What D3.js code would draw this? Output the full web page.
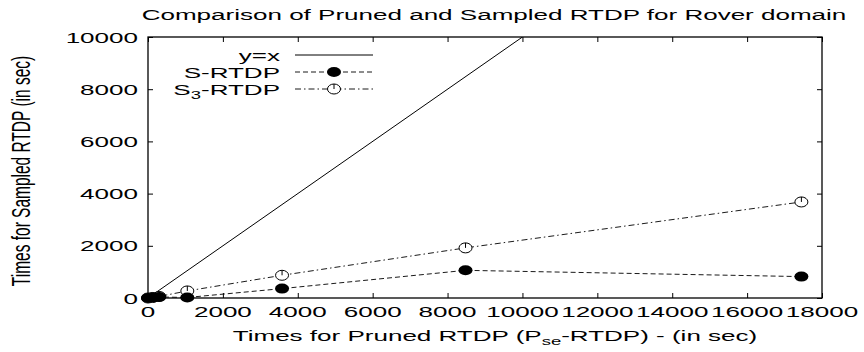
<!DOCTYPE html>
<html>
<head>
<meta charset="utf-8">
<script src="https://cdn.jsdelivr.net/npm/d3@7"></script>
<style>
  body { margin: 0; background: #fff; }
  text { font-family: "Liberation Sans", Arial, sans-serif; fill: #000; }
</style>
</head>
<body>
<div id="chart"></div>
<script>
// Chart data
var xTicks = [0, 2000, 4000, 6000, 8000, 10000, 12000, 14000, 16000, 18000];
var yTicks = [0, 2000, 4000, 6000, 8000, 10000];

var identX = [0, 10000];
var identY = [0, 10000];

var sX = [0, 150, 300, 1050, 3580, 8480, 17450];
var sY = [0, 20, 40, 20, 360, 1060, 820];

var s3X = [0, 120, 300, 1050, 3580, 8480, 17450];
var s3Y = [0, 20, 60, 270, 870, 1920, 3680];

var svgWidth = 864;
var svgHeight = 352;
var margin = { top: 37, right: 42, bottom: 54, left: 148 };
var width = svgWidth - margin.left - margin.right;
var height = svgHeight - margin.top - margin.bottom;

// the original has its text stretched sideways
var sx = 1.68;
var fs = 15.5;

var svg = d3.select("#chart")
  .append("svg")
  .attr("width", svgWidth)
  .attr("height", svgHeight);

var chartGroup = svg.append("g")
  .attr("transform", `translate(${margin.left}, ${margin.top})`);

var xScale = d3.scaleLinear().domain([0, 18000]).range([0, width]);
var yScale = d3.scaleLinear().domain([0, 10000]).range([height, 0]);

function label(parent, x, y, anchor) {
  return parent.append("text")
    .attr("transform", `translate(${x}, ${y}) scale(${sx}, 1)`)
    .attr("text-anchor", anchor)
    .style("font-size", fs + "px");
}

// ticks on all four sides, pointing inward
var tick = 5;
chartGroup.append("g")
  .attr("transform", `translate(0, ${height})`)
  .call(d3.axisBottom(xScale).tickValues(xTicks).tickSize(-tick).tickFormat(""));
chartGroup.append("g")
  .call(d3.axisTop(xScale).tickValues(xTicks).tickSize(-tick).tickFormat(""));
chartGroup.append("g")
  .call(d3.axisLeft(yScale).tickValues(yTicks).tickSize(-tick).tickFormat(""));
chartGroup.append("g")
  .attr("transform", `translate(${width}, 0)`)
  .call(d3.axisRight(yScale).tickValues(yTicks).tickSize(-tick).tickFormat(""));
chartGroup.selectAll(".domain").remove();
chartGroup.selectAll(".tick line").attr("stroke", "#000").attr("stroke-width", 1);

chartGroup.append("rect")
  .attr("width", width)
  .attr("height", height)
  .attr("fill", "none")
  .attr("stroke", "#000")
  .attr("stroke-width", 1.3);

// tick labels
xTicks.forEach(function(t) {
  label(chartGroup, xScale(t), height + 19, "middle").text(t);
});
yTicks.forEach(function(t) {
  label(chartGroup, -10, yScale(t) + 5.5, "end").text(t);
});

// lines
var clip = svg.append("defs").append("clipPath").attr("id", "plotclip");
clip.append("rect").attr("width", width).attr("height", height);

var line = d3.line()
  .x(d => xScale(d[0]))
  .y(d => yScale(d[1]));

var plot = chartGroup.append("g").attr("clip-path", "url(#plotclip)");

plot.append("path")
  .datum(d3.zip(identX, identY))
  .attr("d", line)
  .attr("fill", "none")
  .attr("stroke", "#000")
  .attr("stroke-width", 1);

plot.append("path")
  .datum(d3.zip(s3X, s3Y))
  .attr("d", line)
  .attr("fill", "none")
  .attr("stroke", "#000")
  .attr("stroke-width", 0.9)
  .attr("stroke-dasharray", "6,3,1.5,3");

plot.append("path")
  .datum(d3.zip(sX, sY))
  .attr("d", line)
  .attr("fill", "none")
  .attr("stroke", "#000")
  .attr("stroke-width", 0.9)
  .attr("stroke-dasharray", "5,3");

function openMark(g, x, y) {
  g.append("ellipse")
    .attr("cx", x).attr("cy", y)
    .attr("rx", 6.5).attr("ry", 5)
    .attr("fill", "#fff")
    .attr("stroke", "#000")
    .attr("stroke-width", 1);
  g.append("line")
    .attr("x1", x).attr("y1", y)
    .attr("x2", x).attr("y2", y - 5)
    .attr("stroke", "#000")
    .attr("stroke-width", 1);
}

function fullMark(g, x, y) {
  g.append("ellipse")
    .attr("cx", x).attr("cy", y)
    .attr("rx", 7).attr("ry", 5)
    .attr("fill", "#000");
}

var marks = chartGroup.append("g");
s3X.forEach(function(v, i) { openMark(marks, xScale(v), yScale(s3Y[i])); });
sX.forEach(function(v, i) { fullMark(marks, xScale(v), yScale(sY[i])); });

// legend
var legend = chartGroup.append("g");
var lx0 = 295 - margin.left, lx1 = 373 - margin.left, lxt = 280 - margin.left;
var rows = [18, 35, 52];

label(legend, lxt, rows[0] + 5.5, "end").text("y=x");
legend.append("line")
  .attr("x1", lx0).attr("x2", lx1).attr("y1", rows[0]).attr("y2", rows[0])
  .attr("stroke", "#000").attr("stroke-width", 1);

label(legend, lxt, rows[1] + 5.5, "end").text("S-RTDP");
legend.append("line")
  .attr("x1", lx0).attr("x2", lx1).attr("y1", rows[1]).attr("y2", rows[1])
  .attr("stroke", "#000").attr("stroke-width", 0.9).attr("stroke-dasharray", "5,3");
fullMark(legend, (lx0 + lx1) / 2, rows[1]);

var s3Label = label(legend, lxt, rows[2] + 5.5, "end");
s3Label.append("tspan").text("S");
s3Label.append("tspan").attr("dy", 4).style("font-size", "11px").text("3");
s3Label.append("tspan").attr("dy", -4).text("-RTDP");
legend.append("line")
  .attr("x1", lx0).attr("x2", lx1).attr("y1", rows[2]).attr("y2", rows[2])
  .attr("stroke", "#000").attr("stroke-width", 0.9).attr("stroke-dasharray", "6,3,1.5,3");
openMark(legend, (lx0 + lx1) / 2, rows[2]);

// titles
label(svg, 494, 20, "middle").text("Comparison of Pruned and Sampled RTDP for Rover domain");

var xt = label(svg, 495, 341, "middle");
xt.append("tspan").text("Times for Pruned RTDP (P");
xt.append("tspan").attr("dy", 4).style("font-size", "11px").text("se");
xt.append("tspan").attr("dy", -4).text("-RTDP) - (in sec)");

svg.append("text")
  .attr("transform", `translate(30, 171) scale(${sx}, 1) rotate(-90)`)
  .attr("text-anchor", "middle")
  .style("font-size", fs + "px")
  .text("Times for Sampled RTDP (in sec)");
</script>
</body>
</html>
